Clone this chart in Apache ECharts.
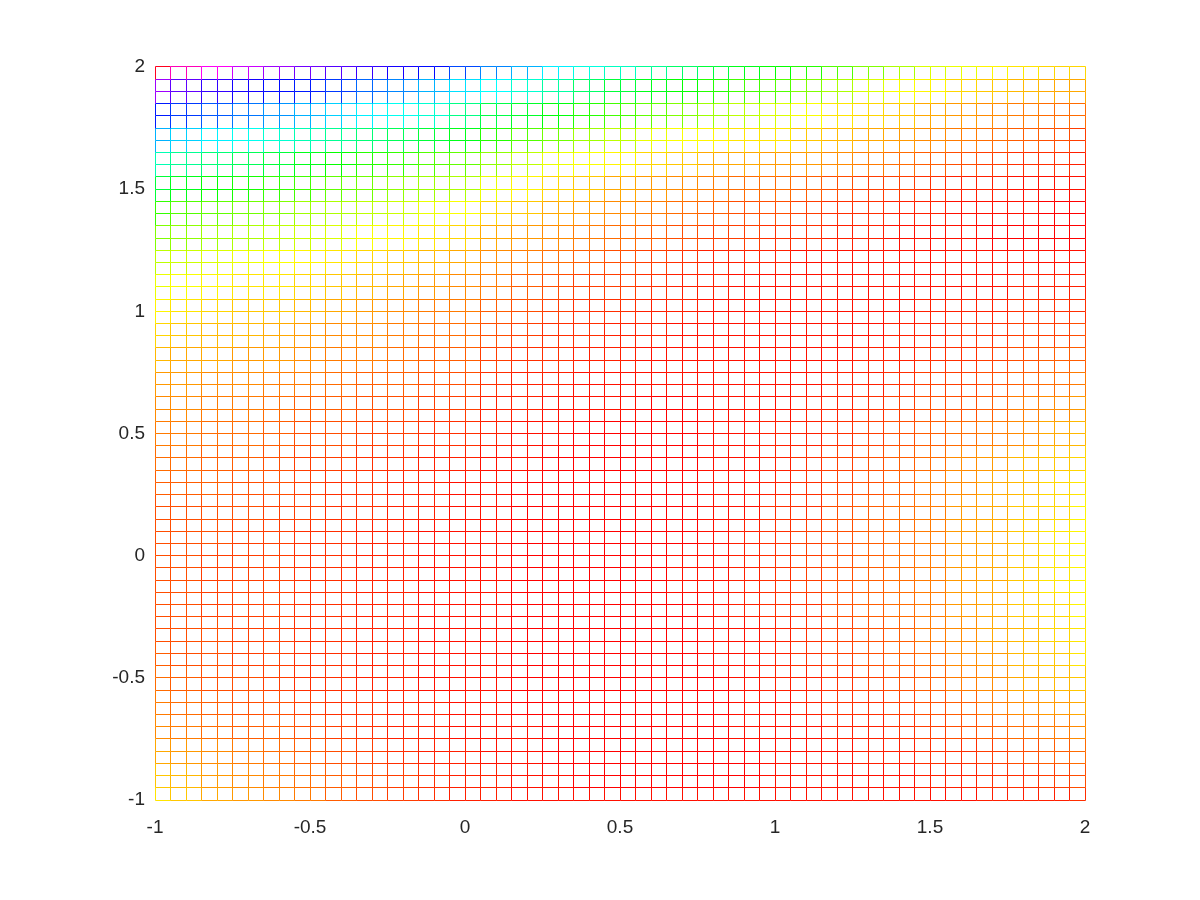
<!DOCTYPE html>
<html>
<head>
<meta charset="utf-8">
<script src="https://cdn.jsdelivr.net/npm/echarts@6/dist/echarts.min.js"></script>
<style>
  html, body { margin: 0; padding: 0; background: #fff; }
  #chart { width: 1200px; height: 900px; }
</style>
</head>
<body>
<div id="chart"></div>
<script>
// mesh line positions
const gridX = [-1,-0.95,-0.9,-0.85,-0.8,-0.75,-0.7,-0.65,-0.6,-0.55,-0.5,-0.45,-0.4,-0.35,-0.3,-0.25,-0.2,-0.15,-0.1,-0.05,
  0,0.05,0.1,0.15,0.2,0.25,0.3,0.35,0.4,0.45,0.5,0.55,0.6,0.65,0.7,0.75,0.8,0.85,0.9,0.95,
  1,1.05,1.1,1.15,1.2,1.25,1.3,1.35,1.4,1.45,1.5,1.55,1.6,1.65,1.7,1.75,1.8,1.85,1.9,1.95,2];
const gridY = gridX.slice();

// tick labels
const xTicks = [-1, -0.5, 0, 0.5, 1, 1.5, 2];
const yTicks = [-1, -0.5, 0, 0.5, 1, 1.5, 2];

const zRows = [
  [98,88,84,80,77,74,72,70,68,66,62,58,55,51,48,46,43,40,37,35,33,31,28,25,22,19,18,16,15,14,14],
  [77,73,70,68,66,65,63,60,58,55,52,50,47,44,40,37,35,33,31,29,28,25,22,19,17,16,14,13,12,11,11],
  [65,63,61,59,57,55,53,51,49,47,42,38,36,34,31,29,27,25,23,21,19,17,15,14,13,11,10,9,8,7,7],
  [55,53,51,49,47,45,43,41,39,37,35,31,28,26,23,21,18,17,16,15,15,13,12,11,10,9,8,7,6,5,4],
  [45,43,41,39,37,35,33,31,30,28,27,24,21,18,17,16,14,13,11,11,10,10,9,8,7,6,5,4,3,3,2],
  [37,35,33,32,30,29,27,26,24,23,22,18,16,14,13,11,10,9,8,7,7,6,5,4,4,3,2,2,1,1,1],
  [30,28,27,26,25,23,22,21,20,18,17,14,13,11,10,9,8,7,6,5,5,4,3,3,2,2,1,1,1,0,0],
  [25,24,23,22,21,20,19,17,16,15,14,11,10,9,8,7,6,5,4,4,3,3,2,2,1,1,1,0,0,0,0],
  [21,20,19,18,17,16,15,14,13,12,11,9,8,7,6,5,4,3,2,2,2,1,1,1,1,1,1,1,1,1,1],
  [18,17,16,15,15,14,13,12,11,10,9,8,6,5,4,4,3,2,2,1,1,1,1,1,1,1,1,1,2,2,2],
  [16,15,14,13,13,12,11,10,9,8,8,6,5,4,3,3,2,2,1,1,1,1,1,1,1,2,2,2,3,3,3],
  [14,13,12,12,11,10,9,9,8,7,7,5,4,3,3,2,2,1,1,1,1,1,1,1,2,2,3,3,4,4,5],
  [12,11,11,10,10,9,8,8,7,6,6,4,3,3,2,2,1,1,1,1,1,1,1,2,2,3,3,4,5,6,6],
  [10,10,9,9,8,8,7,6,6,5,5,3,2,2,1,1,1,1,1,1,1,1,2,2,3,4,4,5,6,7,8],
  [9,9,8,8,7,6,6,5,5,4,4,2,2,1,1,1,0,0,1,1,1,2,2,3,4,5,5,6,8,9,10],
  [8,8,7,7,6,5,5,4,4,3,3,2,1,1,0,0,0,0,1,1,2,2,3,4,5,6,7,8,9,11,12],
  [7,7,6,6,5,4,4,3,3,2,2,1,1,0,0,0,0,0,1,1,2,3,4,5,6,7,9,10,12,13,14],
  [6,6,6,5,5,4,3,3,2,2,1,1,0,0,0,0,0,0,1,1,2,3,4,5,6,8,9,11,12,14,15],
  [5,5,5,5,4,4,3,3,2,2,1,1,0,0,0,0,0,0,1,1,3,3,5,6,7,8,10,11,13,14,16],
  [5,5,5,4,4,3,3,2,2,1,1,1,0,0,0,0,0,0,1,2,3,4,5,6,7,8,10,11,13,15,16],
  [5,5,4,4,4,3,3,2,2,1,1,1,0,0,0,0,0,1,1,2,3,4,5,6,7,8,10,11,13,15,16],
  [5,5,4,4,4,3,3,2,2,1,1,1,0,0,0,0,0,1,1,2,3,4,5,6,7,8,10,11,13,15,16],
  [5,5,4,4,4,3,3,2,2,1,1,1,0,0,0,0,0,0,1,2,3,3,5,6,7,8,10,11,13,14,16],
  [5,5,5,4,4,3,3,2,2,1,1,1,0,0,0,0,0,0,1,1,2,3,4,5,6,8,9,11,12,14,15],
  [6,5,5,4,4,3,3,2,2,1,1,1,0,0,0,0,0,0,1,1,2,3,4,5,6,7,9,10,12,13,15],
  [7,6,5,5,4,3,3,2,2,1,1,1,0,0,0,0,0,0,0,1,2,2,3,4,5,6,8,9,11,12,13],
  [8,7,6,5,5,4,3,3,2,2,1,1,0,0,0,0,0,0,0,1,1,2,3,3,4,5,6,8,9,10,11],
  [9,8,7,6,6,5,4,3,2,2,1,1,1,0,0,0,0,0,0,1,1,1,2,2,3,4,5,6,7,8,9],
  [11,10,9,8,7,6,5,4,3,2,2,1,1,0,0,0,0,0,0,0,1,1,1,2,2,3,3,4,5,6,7],
  [13,12,10,9,8,7,6,5,4,3,2,2,1,1,0,0,0,0,0,0,1,1,1,1,1,2,2,3,3,4,5],
  [15,13,11,10,9,8,6,5,4,3,2,2,1,1,1,1,1,1,1,1,1,1,1,1,1,1,1,2,2,2,3]
];

const hsvColors = ['#ff0000', '#ffff00', '#00ff00', '#00ffff', '#0000ff', '#ff00ff', '#ff0000'];

// fine line index -> row/col of zRows (odd lines take the node nearer the middle)
function lineNode(k) {
  if (k % 2 === 0) return k / 2;
  return k < 30 ? (k + 1) / 2 : (k - 1) / 2;
}
function segNode(k) {
  return (k % 2 === 0 ? k : k + 1) / 2;
}
function zAt(cx, cy) {
  return zRows[30 - cy][cx];
}

const segments = [];
const n = gridX.length;
for (let j = 0; j < n; j++) {
  for (let i = 0; i < n - 1; i++) {
    segments.push([gridX[i], gridY[j], gridX[i + 1], gridY[j], zAt(segNode(i), lineNode(j))]);
  }
}
for (let i = 0; i < n; i++) {
  for (let j = 0; j < n - 1; j++) {
    segments.push([gridX[i], gridY[j], gridX[i], gridY[j + 1], zAt(lineNode(i), segNode(j))]);
  }
}

// snap to pixel centres so 1px lines stay crisp
function px(v) {
  return Math.floor(v) + 0.5;
}

const chart = echarts.init(document.getElementById('chart'), null, {renderer: 'canvas'});
const labelStyle = {
  color: '#262626',
  fontSize: 19,
  fontFamily: 'Liberation Sans, Arial, sans-serif'
};
chart.setOption({
  animation: false,
  backgroundColor: '#ffffff',
  grid: {left: 155, right: 115, top: 67, bottom: 100},
  xAxis: {
    type: 'value',
    min: xTicks[0],
    max: xTicks[xTicks.length - 1],
    interval: 0.5,
    axisLine: {show: false},
    axisTick: {show: false},
    splitLine: {show: false},
    axisLabel: Object.assign({margin: 18}, labelStyle)
  },
  yAxis: {
    type: 'value',
    min: yTicks[0],
    max: yTicks[yTicks.length - 1],
    interval: 0.5,
    axisLine: {show: false},
    axisTick: {show: false},
    splitLine: {show: false},
    axisLabel: Object.assign({margin: 10, padding: [5, 0, 0, 0]}, labelStyle)
  },
  visualMap: {
    show: false,
    type: 'continuous',
    seriesIndex: 0,
    dimension: 4,
    min: 0,
    max: 100,
    inRange: {color: hsvColors}
  },
  series: [{
    type: 'custom',
    progressive: 0,
    clip: false,
    encode: {x: [0, 2], y: [1, 3]},
    data: segments,
    renderItem: function (params, api) {
      const p1 = api.coord([api.value(0), api.value(1)]);
      const p2 = api.coord([api.value(2), api.value(3)]);
      return {
        type: 'line',
        shape: {x1: px(p1[0]), y1: px(p1[1]), x2: px(p2[0]), y2: px(p2[1])},
        style: {stroke: api.visual('color'), lineWidth: 1}
      };
    }
  }]
});
</script>
</body>
</html>
